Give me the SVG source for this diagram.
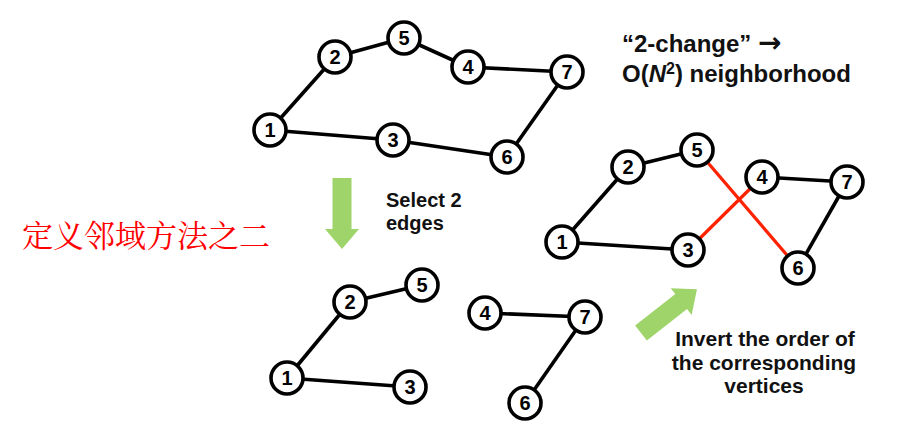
<svg xmlns="http://www.w3.org/2000/svg" width="901" height="424" viewBox="0 0 901 424">
<style>
.n circle{fill:#fff;stroke:#000;stroke-width:3.6}
.n text{font-family:"Liberation Sans",Arial,sans-serif;font-weight:bold;font-size:20px;text-anchor:middle;fill:#000}
.e line{stroke:#000;stroke-width:3.6}
.e line.r{stroke:#ff2200;stroke-width:3.2}
.lbl{font-family:"Liberation Sans",Arial,sans-serif;font-weight:bold;fill:#111}
.arr{fill:#9fd46a}
</style>
<defs>
<polygon id="ga" points="0,-9.5 51,-9.5 51,-17 71,0 51,17 51,9.5 0,9.5"/>
</defs>
<rect width="901" height="424" fill="#fff"/>
<g id="connectors">
<g class="e">
<line x1="270" y1="130" x2="335" y2="57"/>
<line x1="335" y1="57" x2="404" y2="38"/>
<line x1="404" y1="38" x2="468" y2="67"/>
<line x1="468" y1="67" x2="567" y2="72"/>
<line x1="567" y1="72" x2="507" y2="157"/>
<line x1="507" y1="157" x2="393" y2="140"/>
<line x1="393" y1="140" x2="270" y2="130"/>

<line x1="562" y1="242" x2="628" y2="167"/>
<line x1="628" y1="167" x2="697" y2="150"/>
<line class="r" x1="697" y1="150" x2="798" y2="268"/>
<line x1="798" y1="268" x2="847" y2="182"/>
<line x1="847" y1="182" x2="762" y2="177"/>
<line class="r" x1="762" y1="177" x2="688" y2="250"/>
<line x1="688" y1="250" x2="562" y2="242"/>

<line x1="287" y1="378" x2="350" y2="302"/>
<line x1="350" y1="302" x2="422" y2="285"/>
<line x1="287" y1="378" x2="410" y2="387"/>
<line x1="485" y1="313" x2="585" y2="317"/>
<line x1="585" y1="317" x2="525" y2="403"/>
</g>
<use href="#ga" class="arr" transform="translate(342,178) rotate(90)"/>
<use href="#ga" class="arr" transform="translate(641,333) rotate(-38)"/>
</g>
<g id="top-nodes" class="n">
<g id="t1"><circle cx="270" cy="130" r="16"/><text x="270" y="137">1</text></g>
<g id="t2"><circle cx="335" cy="57" r="16"/><text x="335" y="64">2</text></g>
<g id="t5"><circle cx="404" cy="38" r="16"/><text x="404" y="45">5</text></g>
<g id="t4"><circle cx="468" cy="67" r="16"/><text x="468" y="74">4</text></g>
<g id="t7"><circle cx="567" cy="72" r="16"/><text x="567" y="79">7</text></g>
<g id="t3"><circle cx="393" cy="140" r="16"/><text x="393" y="147">3</text></g>
<g id="t6"><circle cx="507" cy="157" r="16"/><text x="507" y="164">6</text></g>
</g>
<g id="right-nodes" class="n">
<g id="r1"><circle cx="562" cy="242" r="16"/><text x="562" y="249">1</text></g>
<g id="r2"><circle cx="628" cy="167" r="16"/><text x="628" y="174">2</text></g>
<g id="r5"><circle cx="697" cy="150" r="16"/><text x="697" y="157">5</text></g>
<g id="r4"><circle cx="762" cy="177" r="16"/><text x="762" y="184">4</text></g>
<g id="r7"><circle cx="847" cy="182" r="16"/><text x="847" y="189">7</text></g>
<g id="r3"><circle cx="688" cy="250" r="16"/><text x="688" y="257">3</text></g>
<g id="r6"><circle cx="798" cy="268" r="16"/><text x="798" y="275">6</text></g>
</g>
<g id="bottom-nodes" class="n">
<g id="b1"><circle cx="287" cy="378" r="16"/><text x="287" y="385">1</text></g>
<g id="b2"><circle cx="350" cy="302" r="16"/><text x="350" y="309">2</text></g>
<g id="b5"><circle cx="422" cy="285" r="16"/><text x="422" y="292">5</text></g>
<g id="b3"><circle cx="410" cy="387" r="16"/><text x="410" y="394">3</text></g>
<g id="b4"><circle cx="485" cy="313" r="16"/><text x="485" y="320">4</text></g>
<g id="b7"><circle cx="585" cy="317" r="16"/><text x="585" y="324">7</text></g>
<g id="b6"><circle cx="525" cy="403" r="16"/><text x="525" y="410">6</text></g>
</g>
<g id="labels">
<text class="lbl" x="622" y="52" font-size="24">“2-change” <tspan font-family="'DejaVu Sans',sans-serif" font-weight="bold" font-size="28">→</tspan></text>
<text class="lbl" x="622" y="82" font-size="24">O(<tspan font-style="italic">N</tspan><tspan font-size="16" dy="-8">2</tspan><tspan dy="8">) neighborhood</tspan></text>
<text class="lbl" x="386" y="207" font-size="20">Select 2</text>
<text class="lbl" x="386" y="230" font-size="20">edges</text>
<text class="lbl" font-size="21" text-anchor="middle" x="765" y="346">Invert the order of</text>
<text class="lbl" font-size="21" text-anchor="middle" x="764" y="370">the corresponding</text>
<text class="lbl" font-size="21" text-anchor="middle" x="764" y="393">vertices</text>
<text x="22" y="247" font-size="31" fill="#ff0000" font-family="'Noto Serif CJK SC','Noto Sans CJK SC',serif">定义邻域方法之二</text>
</g>
</svg>
